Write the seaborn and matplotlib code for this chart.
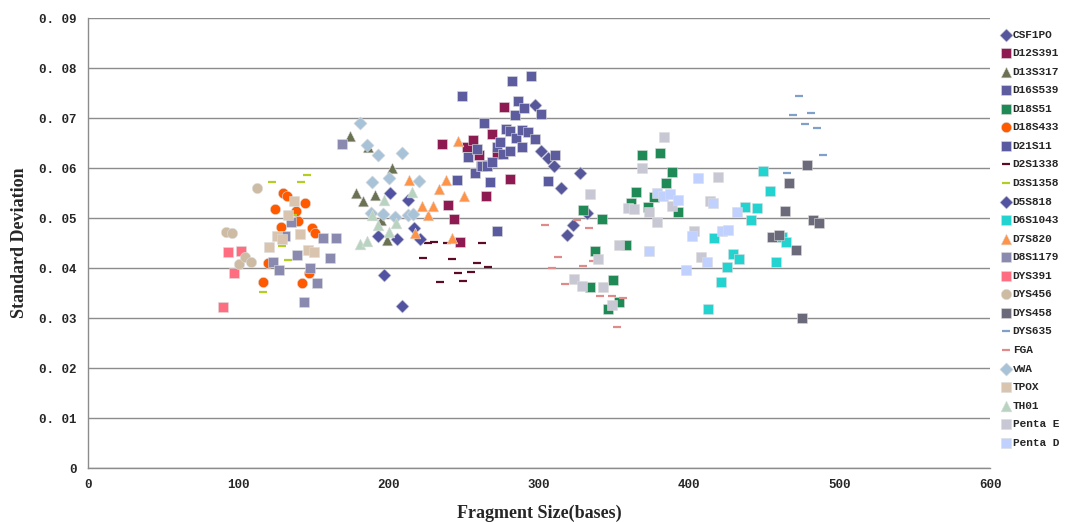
import numpy as np
import pandas as pd
import seaborn as sns
import matplotlib.pyplot as plt
from matplotlib.ticker import FuncFormatter

# fragment size (bases) and standard deviation per locus
csf1po_x = [297, 301, 306, 310, 314.5, 318.5, 322.5, 327, 332]
csf1po_y = [0.0726, 0.0634, 0.062, 0.0604, 0.056, 0.0466, 0.0486, 0.059, 0.051]

d12s391_x = [235.4, 239.4, 243.3, 247.3, 252, 256, 260, 264.6, 268.6, 272, 276.6, 280.6]
d12s391_y = [0.0648, 0.0526, 0.0498, 0.0452, 0.0642, 0.0656, 0.0626, 0.0544, 0.0668, 0.0628, 0.0722, 0.0578]

d13s317_x = [174.2, 178, 182.8, 186, 190.8, 194.8, 198.8, 202]
d13s317_y = [0.0664, 0.055, 0.0534, 0.0642, 0.0546, 0.0496, 0.0456, 0.06]

d16s539_x = [248.7, 252.7, 257.3, 258.6, 261.3, 262, 263.3, 265.3, 265.3, 268.6, 272, 274, 276,
             278, 280.6, 280.6, 282, 284, 284.6, 286, 288.6, 289, 290, 292.6, 294.5, 297, 301, 310.5]
d16s539_y = [0.0744, 0.0622, 0.059, 0.0638, 0.0604, 0.0604, 0.069, 0.0606, 0.0604, 0.0612, 0.0642, 0.0652, 0.0628,
             0.0678, 0.0674, 0.0634, 0.0774, 0.0706, 0.066, 0.0734, 0.0642, 0.0676, 0.072, 0.0672, 0.0784, 0.0658, 0.0708, 0.0626]

d18s51_x = [329, 333.8, 337, 341.8, 345.7, 349, 353, 357.7, 361, 364.4, 368.4, 372.3, 376.3, 380.3, 384.3, 388.3, 392.3]
d18s51_y = [0.0516, 0.0362, 0.0434, 0.0498, 0.0318, 0.0376, 0.0332, 0.0446, 0.053, 0.0552, 0.0626, 0.0522, 0.0542, 0.063, 0.057, 0.0592, 0.0512]

d18s433_x = [116.4, 119.7, 124.3, 128.3, 129.7, 132.3, 138.3, 139.6, 142.3, 144.3, 147, 149, 151]
d18s433_y = [0.0372, 0.041, 0.0518, 0.0482, 0.055, 0.0544, 0.0514, 0.0494, 0.037, 0.053, 0.039, 0.048, 0.047]

d21s11_x = [245.3, 267.3, 272, 305.8]
d21s11_y = [0.0576, 0.0572, 0.0474, 0.0574]

d2s1338_x = [222.7, 226, 230, 234, 238.7, 242, 246, 249.3, 254.7, 258.6, 262, 266]
d2s1338_y = [0.042, 0.045, 0.0452, 0.0372, 0.045, 0.0418, 0.039, 0.0374, 0.0392, 0.041, 0.045, 0.0402]

d3s1358_x = [116.4, 122.7, 129, 133, 136.3, 141.6, 145.6]
d3s1358_y = [0.0352, 0.0572, 0.0444, 0.0416, 0.0506, 0.0572, 0.0586]

d5s818_x = [192.8, 196.8, 200.8, 205.5, 208.8, 212.8, 216.8, 220.7]
d5s818_y = [0.0464, 0.0386, 0.055, 0.0458, 0.0324, 0.0536, 0.048, 0.0458]

d6s1043_x = [412.2, 416.2, 420.9, 424.9, 428.9, 432.8, 436.8, 440.8, 444.8, 448.8, 453.5, 457.4, 461.4, 464]
d6s1043_y = [0.0318, 0.046, 0.0372, 0.0402, 0.0428, 0.0418, 0.0522, 0.0496, 0.052, 0.0594, 0.0554, 0.0412, 0.0462, 0.0452]

d7s820_x = [213.4, 217.4, 222, 226, 229.4, 233.4, 238, 242, 246, 250]
d7s820_y = [0.0576, 0.047, 0.0524, 0.0506, 0.0524, 0.0558, 0.0576, 0.046, 0.0654, 0.0544]

d8s1179_x = [123, 127, 131, 135, 139, 143.6, 147.6, 152, 156, 161, 165, 169]
d8s1179_y = [0.0412, 0.0396, 0.0464, 0.0492, 0.0426, 0.0332, 0.04, 0.037, 0.046, 0.042, 0.046, 0.0648]

dys391_x = [89.8, 93, 97, 101.7]
dys391_y = [0.0322, 0.0432, 0.039, 0.0434]

dys456_x = [91.8, 95.7, 100.4, 104.4, 108.4, 112.4]
dys456_y = [0.0472, 0.047, 0.0408, 0.0422, 0.0412, 0.056]

dys458_x = [454.8, 459.4, 463.4, 466, 470.7, 474.7, 478, 482, 486]
dys458_y = [0.0462, 0.0466, 0.0514, 0.057, 0.0436, 0.030, 0.0606, 0.0496, 0.049]

dys635_x = [464.8, 468.8, 472.7, 476.7, 481, 484.7, 488.7]
dys635_y = [0.059, 0.0706, 0.0744, 0.0688, 0.071, 0.068, 0.0626]

fga_x = [304, 308.5, 312.5, 317, 325, 329, 333, 335.8, 340.4, 348.4, 351.7, 355.7]
fga_y = [0.0486, 0.040, 0.0422, 0.0368, 0.0496, 0.0404, 0.048, 0.0414, 0.0344, 0.0344, 0.0282, 0.034]

vwa_x = [180.9, 185.5, 188.2, 188.8, 192.8, 196, 200, 204, 208.8, 212.8, 216, 220]
vwa_y = [0.069, 0.0646, 0.051, 0.0572, 0.0626, 0.0508, 0.058, 0.0502, 0.063, 0.0506, 0.0508, 0.0574]

tpox_x = [120.3, 125.7, 129, 133, 137, 141, 146.3, 150.3]
tpox_y = [0.0442, 0.0464, 0.0458, 0.0506, 0.0534, 0.0468, 0.0436, 0.0432]

th01_x = [181, 185.5, 188.8, 192.8, 196.8, 200, 204.8, 215.4]
th01_y = [0.0448, 0.0454, 0.0506, 0.0486, 0.0536, 0.0472, 0.049, 0.0552]

pentae_x = [323, 328.5, 333.8, 339, 342.7, 348.4, 353, 359, 363, 368.4, 373, 378.3, 383, 388.3, 403, 408, 413.6, 418.9]
pentae_y = [0.0378, 0.0364, 0.0548, 0.0418, 0.0362, 0.0326, 0.0446, 0.052, 0.0518, 0.060, 0.0512, 0.0492, 0.0662, 0.0524, 0.0474, 0.0422, 0.0534, 0.0582]

pentad_x = [373, 378.3, 382.3, 387, 392.3, 397.6, 401.6, 406, 411.5, 416, 422, 426, 431.5]
pentad_y = [0.0434, 0.055, 0.0544, 0.0548, 0.0536, 0.0396, 0.0464, 0.058, 0.0412, 0.053, 0.0474, 0.0476, 0.0512]

loci = [
    ("CSF1PO", csf1po_x, csf1po_y, "D", "#56569a"),
    ("D12S391", d12s391_x, d12s391_y, "s", "#8e1a52"),
    ("D13S317", d13s317_x, d13s317_y, "^", "#6b7253"),
    ("D16S539", d16s539_x, d16s539_y, "s", "#5c5c9e"),
    ("D18S51", d18s51_x, d18s51_y, "s", "#1f8a55"),
    ("D18S433", d18s433_x, d18s433_y, "o", "#ff5a00"),
    ("D21S11", d21s11_x, d21s11_y, "s", "#5a5aa0"),
    ("D2S1338", d2s1338_x, d2s1338_y, "_", "#5c0a28"),
    ("D3S1358", d3s1358_x, d3s1358_y, "_", "#b5cc20"),
    ("D5S818", d5s818_x, d5s818_y, "D", "#5252a2"),
    ("D6S1043", d6s1043_x, d6s1043_y, "s", "#22d3d0"),
    ("D7S820", d7s820_x, d7s820_y, "^", "#ff9348"),
    ("D8S1179", d8s1179_x, d8s1179_y, "s", "#8a8ab0"),
    ("DYS391", dys391_x, dys391_y, "s", "#ff6e80"),
    ("DYS456", dys456_x, dys456_y, "o", "#cdbba3"),
    ("DYS458", dys458_x, dys458_y, "s", "#6a6a7a"),
    ("DYS635", dys635_x, dys635_y, "_", "#7fa0c8"),
    ("FGA", fga_x, fga_y, "_", "#e08a8a"),
    ("vWA", vwa_x, vwa_y, "D", "#a8c2d8"),
    ("TPOX", tpox_x, tpox_y, "s", "#d9c4b0"),
    ("TH01", th01_x, th01_y, "^", "#b8d4c0"),
    ("Penta E", pentae_x, pentae_y, "s", "#c8c8d4"),
    ("Penta D", pentad_x, pentad_y, "s", "#c0d0ff"),
]

sizes = {"s": 45, "D": 45, "o": 55, "^": 60, "_": 30}

sns.set_style("white")
fig = plt.figure(figsize=(10.71, 5.22), dpi=100)
ax = fig.add_axes([0.0822, 0.1034, 0.8422, 0.8621])

for name, xs, ys, m, c in loci:
    df = pd.DataFrame({"size": xs, "sd": ys})
    if m == "_":
        sns.scatterplot(data=df, x="size", y="sd", ax=ax, marker=m, s=sizes[m],
                        color=c, linewidth=1.6, label=name)
    else:
        sns.scatterplot(data=df, x="size", y="sd", ax=ax, marker=m, s=sizes[m],
                        color=c, edgecolor="#dddddd", linewidth=0.4, label=name)

ax.set_xlim(0, 600)
ax.set_ylim(0, 0.09)
ax.set_xticks(np.arange(0, 601, 100))
ax.set_yticks(np.arange(0, 0.0901, 0.01))
ax.yaxis.set_major_formatter(FuncFormatter(lambda v, p: "0" if v == 0 else "0. %02d" % round(v * 100)))
ax.grid(axis="y", color="#8c8c8c", linewidth=1)
ax.set_axisbelow(True)
for s in ["top", "right"]:
    ax.spines[s].set_visible(False)
for s in ["left", "bottom"]:
    ax.spines[s].set_color("#8c8c8c")
    ax.spines[s].set_linewidth(1)
ax.tick_params(length=0, pad=8, labelsize=9)
for t in ax.get_xticklabels() + ax.get_yticklabels():
    t.set_fontfamily("Liberation Mono")
    t.set_fontweight("bold")

ax.set_xlabel("Fragment Size(bases)", fontsize=13, fontfamily="Liberation Serif", fontweight="bold", labelpad=10)
ax.set_ylabel("Standard Deviation", fontsize=13, fontfamily="Liberation Serif", fontweight="bold", labelpad=8)

ax.legend_.remove()
handles, labels = ax.get_legend_handles_labels()
fig.legend(handles, labels, loc="upper left", bbox_to_anchor=(0.931, 0.952), frameon=False,
           prop={"family": "Liberation Mono", "weight": "bold", "size": 8},
           labelspacing=0.77, handlelength=0.8, handletextpad=0.2, borderaxespad=0)

fig.savefig("out.png", dpi=100)
